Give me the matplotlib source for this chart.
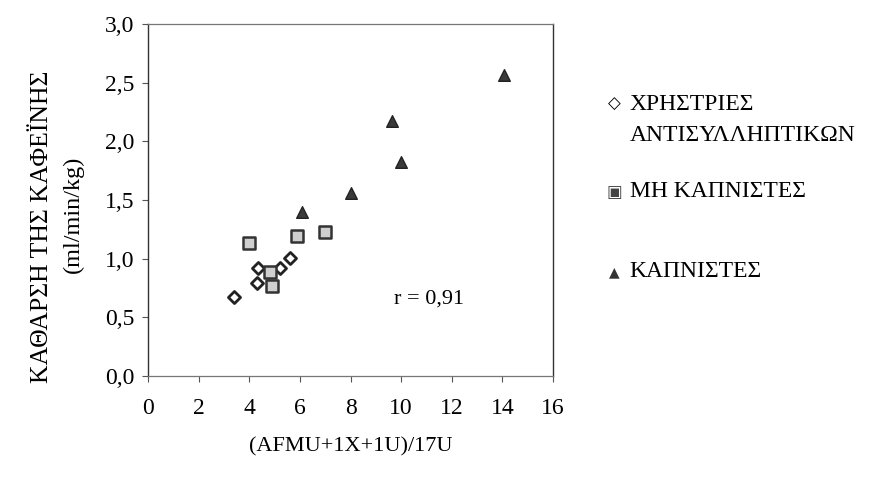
import matplotlib.pyplot as plt

plt.rcParams['font.family'] = ['Liberation Serif', 'DejaVu Serif']

# users of oral contraceptives
users_x = [3.4, 4.35, 4.3, 5.2, 5.6]
users_y = [0.67, 0.92, 0.79, 0.92, 1.01]

# non-smokers
nonsmk_x = [4.0, 4.8, 4.9, 5.9, 7.0]
nonsmk_y = [1.13, 0.89, 0.77, 1.19, 1.23]

# smokers
smk_x = [6.1, 8.0, 9.65, 10.0, 14.05]
smk_y = [1.40, 1.56, 2.17, 1.82, 2.57]

xticks = [0, 2, 4, 6, 8, 10, 12, 14, 16]
yticks = [0.0, 0.5, 1.0, 1.5, 2.0, 2.5, 3.0]
ytick_labels = ['0,0', '0,5', '1,0', '1,5', '2,0', '2,5', '3,0']

fig = plt.figure(figsize=(8.78, 4.82), dpi=100)
ax = fig.add_axes([0.1686, 0.22, 0.4613, 0.730])

ax.scatter(users_x, users_y, marker='D', s=38, facecolor='white',
           edgecolor='#222222', linewidth=2, zorder=3)
ax.scatter(nonsmk_x, nonsmk_y, marker='s', s=78, facecolor='#cfcfcf',
           edgecolor='#333333', linewidth=1.8, zorder=3)
ax.scatter(smk_x, smk_y, marker='^', s=70, facecolor='#3a3a3a',
           edgecolor='#222222', linewidth=1, zorder=3)

ax.set_xlim(0, 16)
ax.set_ylim(0, 3.0)
ax.set_xticks(xticks)
ax.set_xticklabels([str(t) for t in xticks])
ax.set_yticks(yticks)
ax.set_yticklabels(ytick_labels)
ax.tick_params(axis='x', direction='out', length=4, width=0.8, color='#555555',
               labelsize=17, pad=12)
ax.tick_params(axis='y', direction='out', length=4, width=0.8, color='#555555',
               labelsize=17, pad=6)

for side in ['left', 'right']:
    ax.spines[side].set_color('#333333')
    ax.spines[side].set_linewidth(1.0)
for side in ['top', 'bottom']:
    ax.spines[side].set_color('#777777')
    ax.spines[side].set_linewidth(0.9)

ax.set_xlabel('(AFMU+1X+1U)/17U', fontsize=16, labelpad=13)
fig.text(0.048, 0.53, 'ΚΑΘΑΡΣΗ ΤΗΣ ΚΑΦΕΪΝΗΣ', rotation=90, fontsize=18.5,
         ha='center', va='center')
fig.text(0.084, 0.555, '(ml/min/kg)', rotation=90, fontsize=17.5,
         ha='center', va='center')

ax.text(11.1, 0.66, 'r = 0,91', fontsize=16, ha='center', va='center')

# legend drawn by hand beside the plot
fig.text(0.700, 0.784, '◇', fontsize=12, ha='center', va='center',
         fontweight='bold', family=['DejaVu Sans'])
fig.text(0.717, 0.784, 'ΧΡΗΣΤΡΙΕΣ', fontsize=17, ha='left', va='center')
fig.text(0.717, 0.718, 'ΑΝΤΙΣΥΛΛΗΠΤΙΚΩΝ', fontsize=17, ha='left', va='center')
fig.text(0.700, 0.602, '▣', fontsize=12, ha='center', va='center',
         color='#444444', family=['DejaVu Sans'])
fig.text(0.717, 0.602, 'ΜΗ ΚΑΠΝΙΣΤΕΣ', fontsize=17, ha='left', va='center')
fig.text(0.700, 0.436, '▲', fontsize=10, ha='center', va='center',
         color='#333333', family=['DejaVu Sans'])
fig.text(0.717, 0.436, 'ΚΑΠΝΙΣΤΕΣ', fontsize=17, ha='left', va='center')

fig.savefig('out.png', dpi=100)
